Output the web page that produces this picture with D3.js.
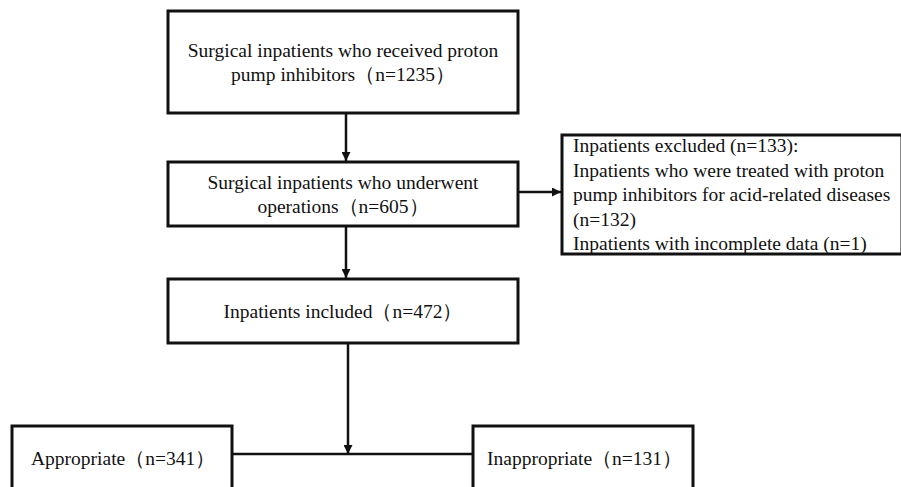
<!DOCTYPE html>
<html>
<head>
<meta charset="utf-8">
<script src="https://cdn.jsdelivr.net/npm/d3@7"></script>
<style>
  body { margin: 0; background: #fff; }
</style>
</head>
<body>
<script>
var width = 901;
var height = 487;

// flow counts
var nTotal = 1235;
var nOperated = 605;
var nExcluded = 133;
var nAcidRelated = 132;
var nIncomplete = 1;
var nIncluded = 472;
var nAppropriate = 341;
var nInappropriate = 131;

// box texts
var totalLines = ['Surgical inpatients who received proton', 'pump inhibitors（n=' + nTotal + '）'];
var operatedLines = ['Surgical inpatients who underwent', 'operations（n=' + nOperated + '）'];
var excludedLines = ['Inpatients excluded (n=' + nExcluded + '):',
                     'Inpatients who were treated with proton',
                     'pump inhibitors for acid-related diseases',
                     '(n=' + nAcidRelated + ')',
                     'Inpatients with incomplete data (n=' + nIncomplete + ')'];
var includedLines = ['Inpatients included（n=' + nIncluded + '）'];
var appropriateLines = ['Appropriate（n=' + nAppropriate + '）'];
var inappropriateLines = ['Inappropriate（n=' + nInappropriate + '）'];

// layout (pixels)
var layout = {
  total:         {x0: 168, y0: 11,  x1: 518, y1: 113, align: 'middle'},
  operated:      {x0: 168, y0: 162, x1: 518, y1: 226, align: 'middle'},
  excluded:      {x0: 562, y0: 135, x1: 902, y1: 254, align: 'start', pad: 11},
  included:      {x0: 168, y0: 279, x1: 518, y1: 343, align: 'middle'},
  appropriate:   {x0: 12,  y0: 426, x1: 232, y1: 500, align: 'start', pad: 19, ty: 458},
  inappropriate: {x0: 473, y0: 426, x1: 693, y1: 500, align: 'start', pad: 14, ty: 458}
};

var boxes = [
  {key: 'total', lines: totalLines},
  {key: 'operated', lines: operatedLines},
  {key: 'excluded', lines: excludedLines},
  {key: 'included', lines: includedLines},
  {key: 'appropriate', lines: appropriateLines},
  {key: 'inappropriate', lines: inappropriateLines}
];

var fontSize = 19.5;
var lineGap = 24.5;

var svg = d3.select('body').append('svg')
  .attr('width', width)
  .attr('height', height)
  .attr('viewBox', '0 0 ' + width + ' ' + height);

svg.append('defs').append('marker')
  .attr('id', 'head')
  .attr('viewBox', '0 0 10 10')
  .attr('refX', 10)
  .attr('refY', 5)
  .attr('markerUnits', 'userSpaceOnUse')
  .attr('markerWidth', 9)
  .attr('markerHeight', 9)
  .attr('orient', 'auto')
  .append('path')
  .attr('d', 'M0,0 L10,5 L0,10 Z')
  .attr('fill', '#111');

var boxG = svg.selectAll('.box')
  .data(boxes)
  .enter()
  .append('g')
  .attr('class', 'box');

boxG.append('rect')
  .attr('x', d => layout[d.key].x0)
  .attr('y', d => layout[d.key].y0)
  .attr('width', d => layout[d.key].x1 - layout[d.key].x0)
  .attr('height', d => layout[d.key].y1 - layout[d.key].y0)
  .attr('fill', '#fff')
  .attr('stroke', '#111')
  .attr('stroke-width', 3);

boxG.each(function(d) {
  var b = layout[d.key];
  var cy = b.ty != null ? b.ty : (b.y0 + b.y1) / 2;
  var startY = cy - (d.lines.length - 1) * lineGap / 2;
  var tx = b.align === 'middle' ? (b.x0 + b.x1) / 2 : b.x0 + b.pad;
  d3.select(this).selectAll('text')
    .data(d.lines)
    .enter()
    .append('text')
    .attr('x', tx)
    .attr('y', (l, i) => startY + i * lineGap)
    .attr('dy', '0.35em')
    .attr('text-anchor', b.align)
    .attr('font-family', "'Liberation Serif', 'Times New Roman', Times, serif")
    .attr('font-size', fontSize)
    .attr('fill', '#111')
    .text(l => l);
});

// connectors
var midX = (layout.total.x0 + layout.total.x1) / 2 + 3;
var links = [
  {x1: midX, y1: layout.total.y1, x2: midX, y2: layout.operated.y0 - 1, arrow: true},
  {x1: layout.operated.x1, y1: 192, x2: layout.excluded.x0 - 1, y2: 192, arrow: true},
  {x1: midX, y1: layout.operated.y1, x2: midX, y2: layout.included.y0 - 1, arrow: true},
  {x1: midX + 2, y1: layout.included.y1, x2: midX + 2, y2: 454, arrow: true},
  {x1: layout.appropriate.x1, y1: 454, x2: layout.inappropriate.x0, y2: 454, arrow: false}
];

svg.selectAll('.link')
  .data(links)
  .enter()
  .append('line')
  .attr('class', 'link')
  .attr('x1', d => d.x1)
  .attr('y1', d => d.y1)
  .attr('x2', d => d.x2)
  .attr('y2', d => d.y2)
  .attr('stroke', '#111')
  .attr('stroke-width', 2.5)
  .attr('marker-end', d => d.arrow ? 'url(#head)' : null);
</script>
</body>
</html>
